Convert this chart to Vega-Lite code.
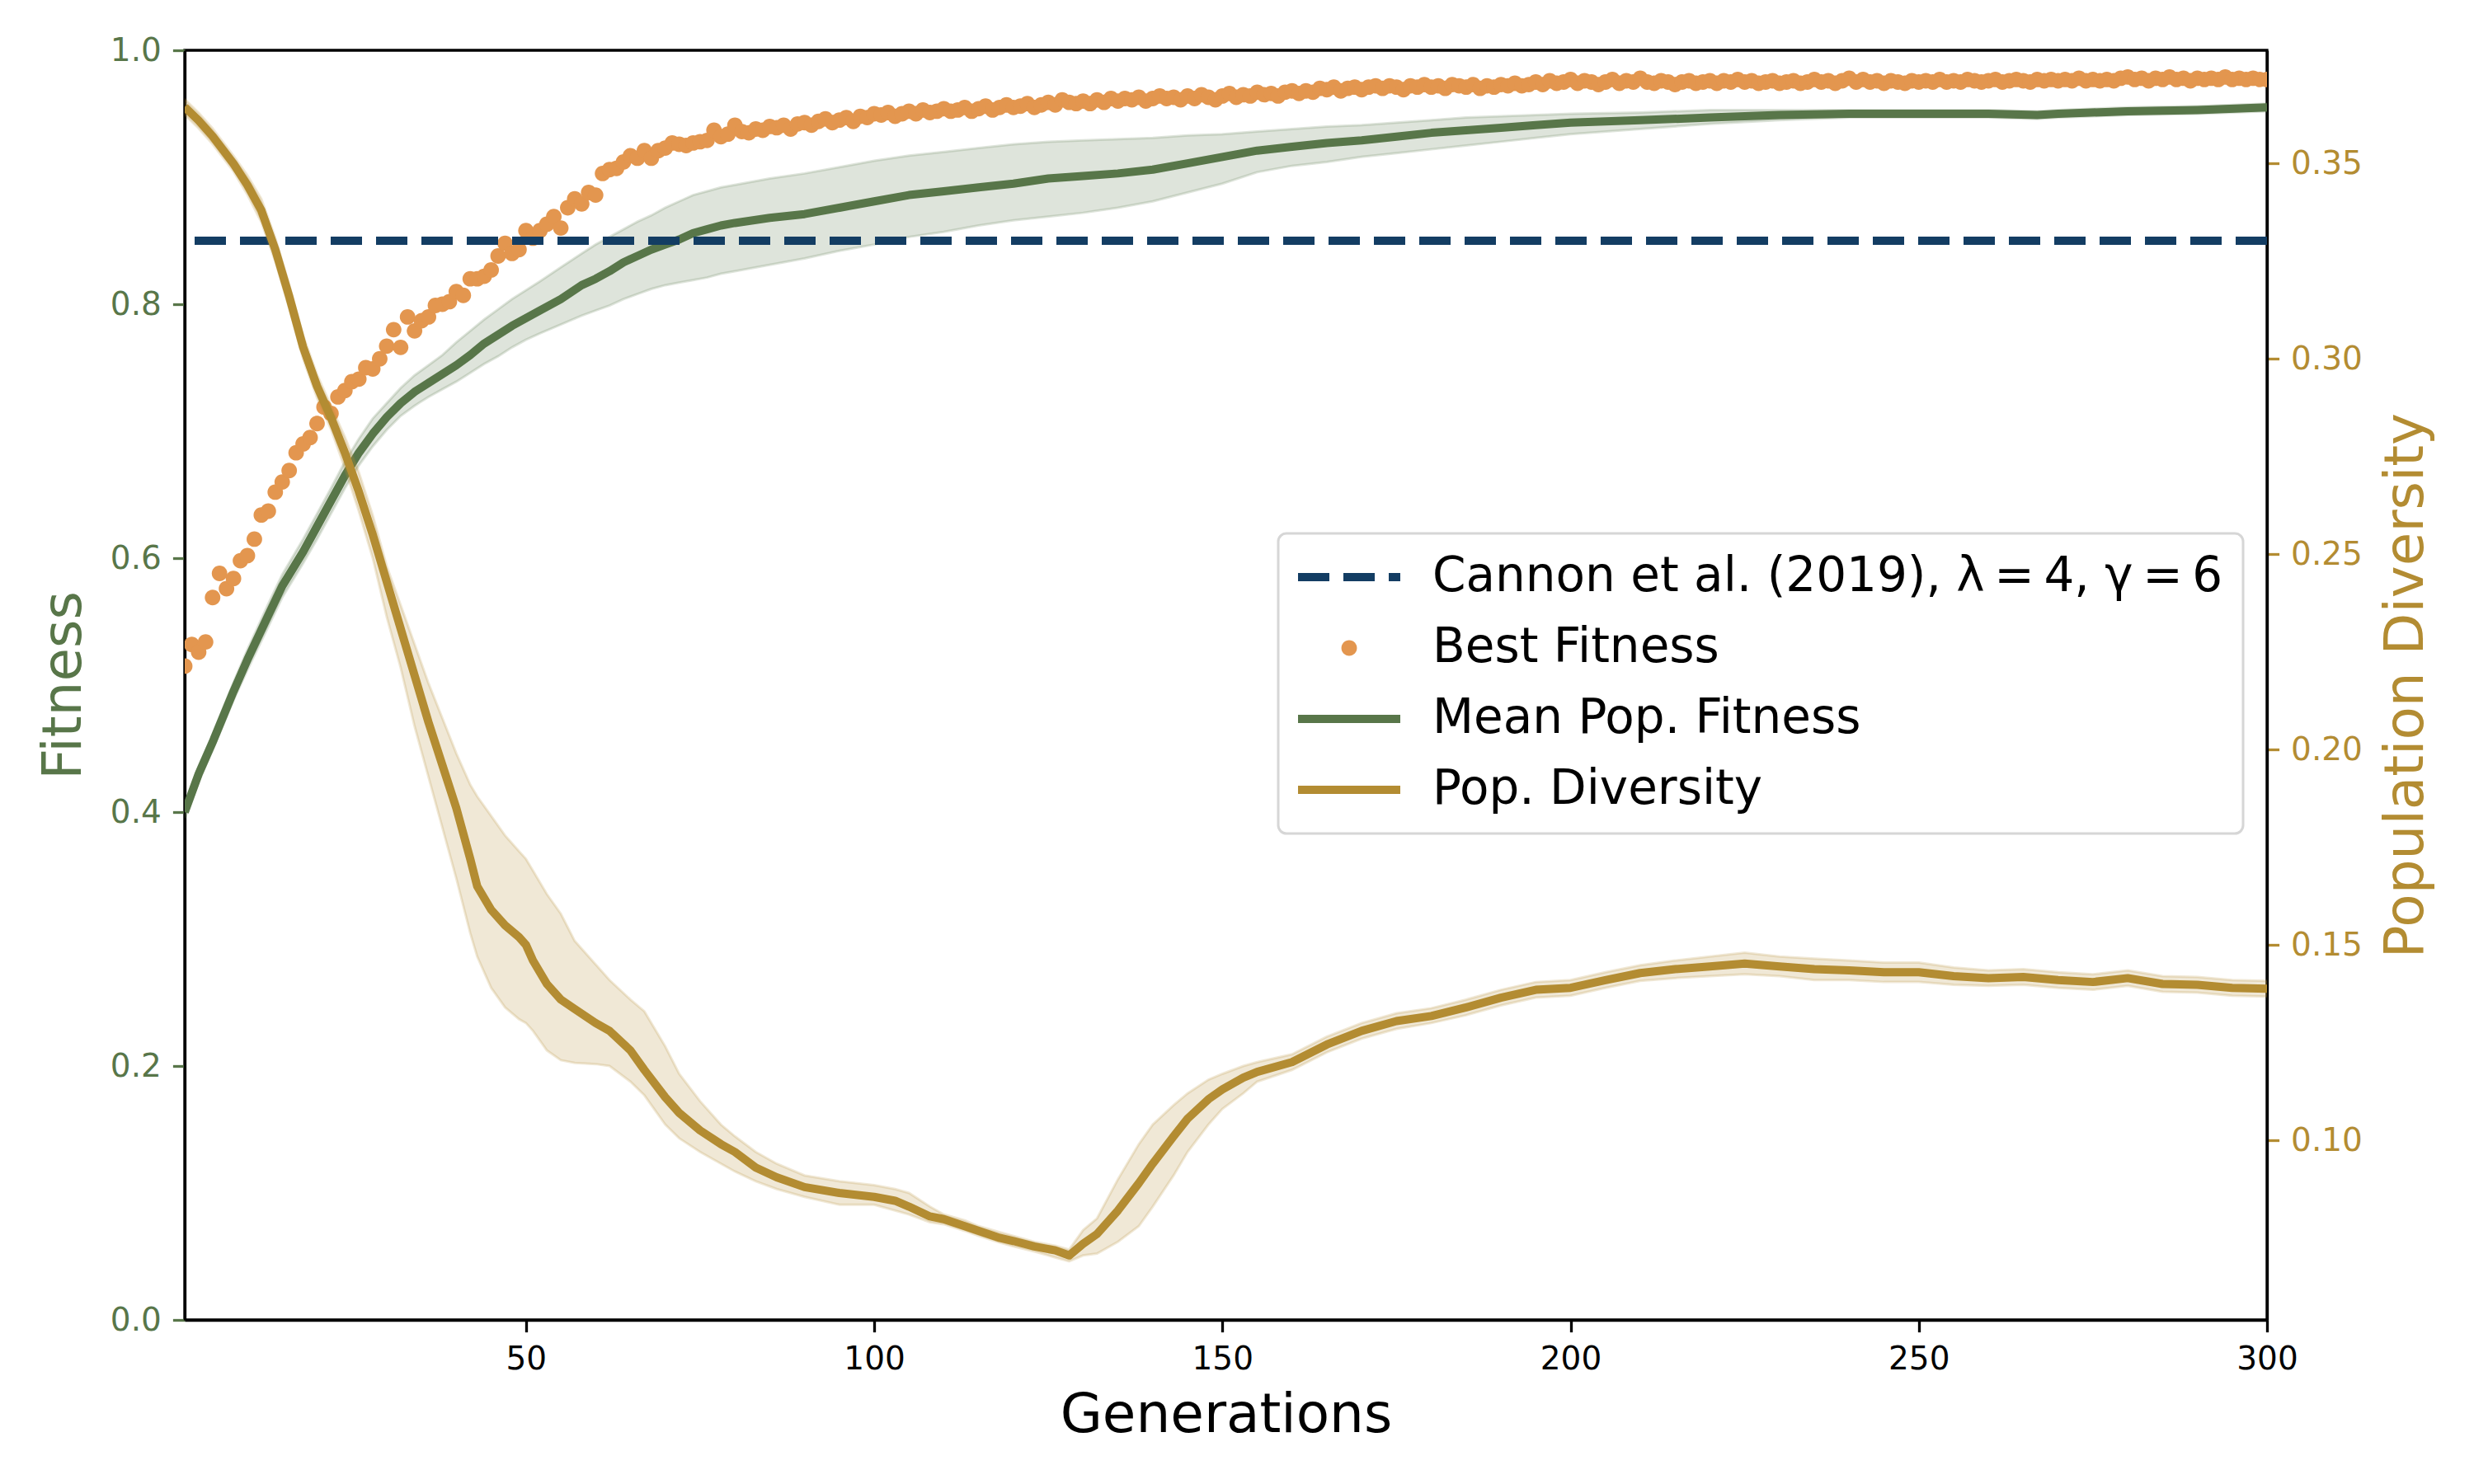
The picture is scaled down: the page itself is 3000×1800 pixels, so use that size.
{
  "$schema": "https://vega.github.io/schema/vega-lite/v6.json",
  "description": "Fitness and population diversity over generations.",
  "width": 2525,
  "height": 1540,
  "autosize": {"type": "none"},
  "padding": {"left": 224, "top": 61, "right": 251, "bottom": 199},
  "background": "white",
  "config": {
    "font": "DejaVu Sans",
    "view": {"stroke": "black", "strokeWidth": 3.3},
    "legend": {"strokeWidth": 3},
    "axis": {
      "grid": false,
      "tickSize": 14.6,
      "tickWidth": 3.3,
      "domainWidth": 3.3,
      "domainColor": "black",
      "labelFont": "DejaVu Sans",
      "labelFontSize": 39,
      "labelPadding": 14,
      "labelFlush": false,
      "labelOverlap": false,
      "titleFont": "DejaVu Sans",
      "titleFontSize": 66,
      "titleFontWeight": "normal"
    }
  },
  "datasets": {
    "mean": [
      {"g": 1, "m": 0.400, "lo": 0.395, "hi": 0.405},
      {"g": 3, "m": 0.430, "lo": 0.424, "hi": 0.436},
      {"g": 5, "m": 0.455, "lo": 0.449, "hi": 0.461},
      {"g": 8, "m": 0.495, "lo": 0.488, "hi": 0.502},
      {"g": 10, "m": 0.520, "lo": 0.512, "hi": 0.528},
      {"g": 13, "m": 0.555, "lo": 0.546, "hi": 0.564},
      {"g": 15, "m": 0.578, "lo": 0.569, "hi": 0.587},
      {"g": 18, "m": 0.605, "lo": 0.596, "hi": 0.615},
      {"g": 20, "m": 0.625, "lo": 0.615, "hi": 0.635},
      {"g": 22, "m": 0.645, "lo": 0.635, "hi": 0.655},
      {"g": 24, "m": 0.665, "lo": 0.655, "hi": 0.676},
      {"g": 26, "m": 0.683, "lo": 0.673, "hi": 0.694},
      {"g": 28, "m": 0.698, "lo": 0.688, "hi": 0.710},
      {"g": 30, "m": 0.711, "lo": 0.701, "hi": 0.722},
      {"g": 32, "m": 0.722, "lo": 0.712, "hi": 0.734},
      {"g": 34, "m": 0.731, "lo": 0.720, "hi": 0.744},
      {"g": 36, "m": 0.738, "lo": 0.727, "hi": 0.752},
      {"g": 38, "m": 0.745, "lo": 0.733, "hi": 0.760},
      {"g": 40, "m": 0.752, "lo": 0.739, "hi": 0.770},
      {"g": 42, "m": 0.760, "lo": 0.746, "hi": 0.779},
      {"g": 44, "m": 0.769, "lo": 0.753, "hi": 0.788},
      {"g": 46, "m": 0.776, "lo": 0.759, "hi": 0.796},
      {"g": 48, "m": 0.783, "lo": 0.766, "hi": 0.804},
      {"g": 50, "m": 0.789, "lo": 0.772, "hi": 0.811},
      {"g": 52, "m": 0.795, "lo": 0.777, "hi": 0.818},
      {"g": 55, "m": 0.804, "lo": 0.784, "hi": 0.829},
      {"g": 58, "m": 0.815, "lo": 0.791, "hi": 0.840},
      {"g": 60, "m": 0.820, "lo": 0.795, "hi": 0.847},
      {"g": 62, "m": 0.826, "lo": 0.799, "hi": 0.853},
      {"g": 64, "m": 0.833, "lo": 0.804, "hi": 0.859},
      {"g": 66, "m": 0.838, "lo": 0.808, "hi": 0.865},
      {"g": 68, "m": 0.843, "lo": 0.812, "hi": 0.870},
      {"g": 70, "m": 0.847, "lo": 0.815, "hi": 0.876},
      {"g": 72, "m": 0.851, "lo": 0.817, "hi": 0.881},
      {"g": 74, "m": 0.856, "lo": 0.819, "hi": 0.886},
      {"g": 76, "m": 0.859, "lo": 0.821, "hi": 0.889},
      {"g": 78, "m": 0.862, "lo": 0.824, "hi": 0.892},
      {"g": 80, "m": 0.864, "lo": 0.826, "hi": 0.894},
      {"g": 85, "m": 0.868, "lo": 0.831, "hi": 0.899},
      {"g": 90, "m": 0.871, "lo": 0.836, "hi": 0.903},
      {"g": 95, "m": 0.876, "lo": 0.842, "hi": 0.908},
      {"g": 100, "m": 0.881, "lo": 0.847, "hi": 0.913},
      {"g": 105, "m": 0.886, "lo": 0.853, "hi": 0.917},
      {"g": 110, "m": 0.889, "lo": 0.857, "hi": 0.920},
      {"g": 115, "m": 0.892, "lo": 0.862, "hi": 0.923},
      {"g": 120, "m": 0.895, "lo": 0.866, "hi": 0.926},
      {"g": 125, "m": 0.899, "lo": 0.869, "hi": 0.928},
      {"g": 130, "m": 0.901, "lo": 0.872, "hi": 0.929},
      {"g": 135, "m": 0.903, "lo": 0.876, "hi": 0.930},
      {"g": 140, "m": 0.906, "lo": 0.881, "hi": 0.931},
      {"g": 145, "m": 0.911, "lo": 0.888, "hi": 0.933},
      {"g": 150, "m": 0.916, "lo": 0.895, "hi": 0.934},
      {"g": 155, "m": 0.921, "lo": 0.904, "hi": 0.936},
      {"g": 160, "m": 0.924, "lo": 0.909, "hi": 0.938},
      {"g": 165, "m": 0.927, "lo": 0.912, "hi": 0.940},
      {"g": 170, "m": 0.929, "lo": 0.916, "hi": 0.941},
      {"g": 175, "m": 0.932, "lo": 0.919, "hi": 0.943},
      {"g": 180, "m": 0.935, "lo": 0.922, "hi": 0.945},
      {"g": 185, "m": 0.937, "lo": 0.925, "hi": 0.947},
      {"g": 190, "m": 0.939, "lo": 0.928, "hi": 0.948},
      {"g": 195, "m": 0.941, "lo": 0.931, "hi": 0.949},
      {"g": 200, "m": 0.943, "lo": 0.934, "hi": 0.950},
      {"g": 210, "m": 0.945, "lo": 0.938, "hi": 0.951},
      {"g": 220, "m": 0.947, "lo": 0.942, "hi": 0.953},
      {"g": 230, "m": 0.949, "lo": 0.945, "hi": 0.953},
      {"g": 240, "m": 0.950, "lo": 0.947, "hi": 0.953},
      {"g": 250, "m": 0.950, "lo": 0.947, "hi": 0.953},
      {"g": 260, "m": 0.950, "lo": 0.947, "hi": 0.953},
      {"g": 267, "m": 0.949, "lo": 0.946, "hi": 0.952},
      {"g": 270, "m": 0.950, "lo": 0.947, "hi": 0.953},
      {"g": 280, "m": 0.952, "lo": 0.949, "hi": 0.955},
      {"g": 290, "m": 0.953, "lo": 0.950, "hi": 0.956},
      {"g": 300, "m": 0.955, "lo": 0.952, "hi": 0.958}
    ],
    "div": [
      {"g": 1, "d": 0.3645, "lo": 0.3625, "hi": 0.3665},
      {"g": 3, "d": 0.361, "lo": 0.359, "hi": 0.363},
      {"g": 5, "d": 0.357, "lo": 0.355, "hi": 0.359},
      {"g": 8, "d": 0.350, "lo": 0.348, "hi": 0.352},
      {"g": 10, "d": 0.3445, "lo": 0.342, "hi": 0.347},
      {"g": 12, "d": 0.338, "lo": 0.335, "hi": 0.341},
      {"g": 14, "d": 0.328, "lo": 0.325, "hi": 0.331},
      {"g": 16, "d": 0.316, "lo": 0.313, "hi": 0.319},
      {"g": 18, "d": 0.303, "lo": 0.300, "hi": 0.306},
      {"g": 20, "d": 0.293, "lo": 0.290, "hi": 0.296},
      {"g": 22, "d": 0.285, "lo": 0.282, "hi": 0.288},
      {"g": 24, "d": 0.276, "lo": 0.272, "hi": 0.280},
      {"g": 26, "d": 0.266, "lo": 0.261, "hi": 0.271},
      {"g": 28, "d": 0.255, "lo": 0.249, "hi": 0.260},
      {"g": 30, "d": 0.243, "lo": 0.234, "hi": 0.247},
      {"g": 32, "d": 0.231, "lo": 0.221, "hi": 0.237},
      {"g": 34, "d": 0.219, "lo": 0.206, "hi": 0.227},
      {"g": 36, "d": 0.207, "lo": 0.193, "hi": 0.217},
      {"g": 38, "d": 0.196, "lo": 0.180, "hi": 0.208},
      {"g": 40, "d": 0.185, "lo": 0.167, "hi": 0.199},
      {"g": 42, "d": 0.172, "lo": 0.153, "hi": 0.191},
      {"g": 43, "d": 0.165, "lo": 0.147, "hi": 0.188},
      {"g": 45, "d": 0.159, "lo": 0.139, "hi": 0.183},
      {"g": 47, "d": 0.155, "lo": 0.134, "hi": 0.178},
      {"g": 49, "d": 0.152, "lo": 0.131, "hi": 0.174},
      {"g": 50, "d": 0.150, "lo": 0.130, "hi": 0.172},
      {"g": 51, "d": 0.146, "lo": 0.128, "hi": 0.169},
      {"g": 53, "d": 0.140, "lo": 0.123, "hi": 0.163},
      {"g": 55, "d": 0.136, "lo": 0.1205, "hi": 0.158},
      {"g": 57, "d": 0.1336, "lo": 0.1198, "hi": 0.151},
      {"g": 60, "d": 0.130, "lo": 0.1195, "hi": 0.145},
      {"g": 62, "d": 0.128, "lo": 0.119, "hi": 0.141},
      {"g": 65, "d": 0.123, "lo": 0.115, "hi": 0.136},
      {"g": 67, "d": 0.118, "lo": 0.1115, "hi": 0.133},
      {"g": 70, "d": 0.111, "lo": 0.104, "hi": 0.124},
      {"g": 72, "d": 0.107, "lo": 0.1005, "hi": 0.117},
      {"g": 75, "d": 0.1025, "lo": 0.097, "hi": 0.110},
      {"g": 78, "d": 0.099, "lo": 0.094, "hi": 0.104},
      {"g": 80, "d": 0.097, "lo": 0.092, "hi": 0.101},
      {"g": 83, "d": 0.093, "lo": 0.0895, "hi": 0.097},
      {"g": 86, "d": 0.0905, "lo": 0.0875, "hi": 0.094},
      {"g": 90, "d": 0.088, "lo": 0.0855, "hi": 0.091},
      {"g": 95, "d": 0.0865, "lo": 0.0835, "hi": 0.0895},
      {"g": 100, "d": 0.0855, "lo": 0.0835, "hi": 0.0885},
      {"g": 103, "d": 0.0845, "lo": 0.082, "hi": 0.0875},
      {"g": 105, "d": 0.083, "lo": 0.081, "hi": 0.0865},
      {"g": 108, "d": 0.0805, "lo": 0.079, "hi": 0.083},
      {"g": 110, "d": 0.0798, "lo": 0.0785, "hi": 0.081},
      {"g": 113, "d": 0.078, "lo": 0.0768, "hi": 0.0795},
      {"g": 115, "d": 0.0768, "lo": 0.0755, "hi": 0.078},
      {"g": 118, "d": 0.075, "lo": 0.0738, "hi": 0.0765},
      {"g": 120, "d": 0.0742, "lo": 0.0728, "hi": 0.0755},
      {"g": 123, "d": 0.0728, "lo": 0.0715, "hi": 0.074},
      {"g": 126, "d": 0.0718, "lo": 0.070, "hi": 0.073},
      {"g": 128, "d": 0.0705, "lo": 0.069, "hi": 0.072},
      {"g": 130, "d": 0.0735, "lo": 0.0705, "hi": 0.077},
      {"g": 132, "d": 0.076, "lo": 0.071, "hi": 0.080},
      {"g": 135, "d": 0.082, "lo": 0.074, "hi": 0.090},
      {"g": 138, "d": 0.089, "lo": 0.078, "hi": 0.099},
      {"g": 140, "d": 0.094, "lo": 0.083, "hi": 0.104},
      {"g": 143, "d": 0.101, "lo": 0.091, "hi": 0.109},
      {"g": 145, "d": 0.1055, "lo": 0.097, "hi": 0.112},
      {"g": 148, "d": 0.1105, "lo": 0.104, "hi": 0.1155},
      {"g": 150, "d": 0.113, "lo": 0.108, "hi": 0.117},
      {"g": 153, "d": 0.116, "lo": 0.112, "hi": 0.119},
      {"g": 155, "d": 0.1175, "lo": 0.115, "hi": 0.120},
      {"g": 160, "d": 0.120, "lo": 0.118, "hi": 0.122},
      {"g": 165, "d": 0.1245, "lo": 0.1225, "hi": 0.1265},
      {"g": 170, "d": 0.128, "lo": 0.126, "hi": 0.130},
      {"g": 175, "d": 0.1305, "lo": 0.1285, "hi": 0.1325},
      {"g": 180, "d": 0.1318, "lo": 0.130, "hi": 0.1338},
      {"g": 185, "d": 0.134, "lo": 0.132, "hi": 0.136},
      {"g": 190, "d": 0.1365, "lo": 0.1345, "hi": 0.1385},
      {"g": 195, "d": 0.1385, "lo": 0.1365, "hi": 0.1405},
      {"g": 200, "d": 0.139, "lo": 0.137, "hi": 0.141},
      {"g": 205, "d": 0.141, "lo": 0.139, "hi": 0.143},
      {"g": 210, "d": 0.1428, "lo": 0.1408, "hi": 0.1448},
      {"g": 215, "d": 0.1438, "lo": 0.1415, "hi": 0.146},
      {"g": 220, "d": 0.1445, "lo": 0.142, "hi": 0.147},
      {"g": 225, "d": 0.1452, "lo": 0.1425, "hi": 0.148},
      {"g": 230, "d": 0.1445, "lo": 0.142, "hi": 0.147},
      {"g": 235, "d": 0.1438, "lo": 0.141, "hi": 0.1465},
      {"g": 240, "d": 0.1435, "lo": 0.141, "hi": 0.146},
      {"g": 245, "d": 0.143, "lo": 0.1405, "hi": 0.1455},
      {"g": 250, "d": 0.143, "lo": 0.1405, "hi": 0.1455},
      {"g": 255, "d": 0.142, "lo": 0.1398, "hi": 0.1442},
      {"g": 260, "d": 0.1415, "lo": 0.1395, "hi": 0.1435},
      {"g": 265, "d": 0.1418, "lo": 0.1398, "hi": 0.1438},
      {"g": 270, "d": 0.141, "lo": 0.139, "hi": 0.143},
      {"g": 275, "d": 0.1405, "lo": 0.1385, "hi": 0.1425},
      {"g": 280, "d": 0.1415, "lo": 0.1395, "hi": 0.1435},
      {"g": 285, "d": 0.140, "lo": 0.138, "hi": 0.142},
      {"g": 290, "d": 0.1398, "lo": 0.1378, "hi": 0.1418},
      {"g": 295, "d": 0.139, "lo": 0.137, "hi": 0.141},
      {"g": 300, "d": 0.1388, "lo": 0.1368, "hi": 0.1408}
    ],
    "best": [
      {"g": 1, "b": 0.515}, {"g": 2, "b": 0.532}, {"g": 3, "b": 0.526}, {"g": 4, "b": 0.534}, {"g": 5, "b": 0.569},
      {"g": 6, "b": 0.588}, {"g": 7, "b": 0.576}, {"g": 8, "b": 0.584}, {"g": 9, "b": 0.598}, {"g": 10, "b": 0.602},
      {"g": 11, "b": 0.615}, {"g": 12, "b": 0.634}, {"g": 13, "b": 0.637}, {"g": 14, "b": 0.652}, {"g": 15, "b": 0.660},
      {"g": 16, "b": 0.669}, {"g": 17, "b": 0.683}, {"g": 18, "b": 0.690}, {"g": 19, "b": 0.695}, {"g": 20, "b": 0.706},
      {"g": 21, "b": 0.719}, {"g": 22, "b": 0.714}, {"g": 23, "b": 0.727}, {"g": 24, "b": 0.732}, {"g": 25, "b": 0.739},
      {"g": 26, "b": 0.741}, {"g": 27, "b": 0.750}, {"g": 28, "b": 0.749}, {"g": 29, "b": 0.757}, {"g": 30, "b": 0.767},
      {"g": 31, "b": 0.780}, {"g": 32, "b": 0.766}, {"g": 33, "b": 0.790}, {"g": 34, "b": 0.779}, {"g": 35, "b": 0.787},
      {"g": 36, "b": 0.790}, {"g": 37, "b": 0.799}, {"g": 38, "b": 0.800}, {"g": 39, "b": 0.802}, {"g": 40, "b": 0.810},
      {"g": 41, "b": 0.807}, {"g": 42, "b": 0.820}, {"g": 43, "b": 0.820}, {"g": 44, "b": 0.822}, {"g": 45, "b": 0.827},
      {"g": 46, "b": 0.838}, {"g": 47, "b": 0.848}, {"g": 48, "b": 0.840}, {"g": 49, "b": 0.843}, {"g": 50, "b": 0.858},
      {"g": 51, "b": 0.852}, {"g": 52, "b": 0.858}, {"g": 53, "b": 0.863}, {"g": 54, "b": 0.869}, {"g": 55, "b": 0.860},
      {"g": 56, "b": 0.876}, {"g": 57, "b": 0.883}, {"g": 58, "b": 0.879}, {"g": 59, "b": 0.888}, {"g": 60, "b": 0.886},
      {"g": 61, "b": 0.903}, {"g": 62, "b": 0.906}, {"g": 63, "b": 0.907}, {"g": 64, "b": 0.912}, {"g": 65, "b": 0.917},
      {"g": 66, "b": 0.915}, {"g": 67, "b": 0.921}, {"g": 68, "b": 0.915}, {"g": 69, "b": 0.921}, {"g": 70, "b": 0.923},
      {"g": 71, "b": 0.927}, {"g": 72, "b": 0.926}, {"g": 73, "b": 0.925}, {"g": 74, "b": 0.927}, {"g": 75, "b": 0.928},
      {"g": 76, "b": 0.929}, {"g": 77, "b": 0.937}, {"g": 78, "b": 0.932}, {"g": 79, "b": 0.934}, {"g": 80, "b": 0.941},
      {"g": 81, "b": 0.936}, {"g": 82, "b": 0.935}, {"g": 83, "b": 0.938}, {"g": 84, "b": 0.937}, {"g": 85, "b": 0.940},
      {"g": 86, "b": 0.939}, {"g": 87, "b": 0.941}, {"g": 88, "b": 0.938}, {"g": 89, "b": 0.942}, {"g": 90, "b": 0.943},
      {"g": 91, "b": 0.941}, {"g": 92, "b": 0.944}, {"g": 93, "b": 0.946}, {"g": 94, "b": 0.943}, {"g": 95, "b": 0.945},
      {"g": 96, "b": 0.947}, {"g": 97, "b": 0.944}, {"g": 98, "b": 0.948}, {"g": 99, "b": 0.947}, {"g": 100, "b": 0.950},
      {"g": 101, "b": 0.949}, {"g": 102, "b": 0.951}, {"g": 103, "b": 0.948}, {"g": 104, "b": 0.950}, {"g": 105, "b": 0.952},
      {"g": 106, "b": 0.950}, {"g": 107, "b": 0.953}, {"g": 108, "b": 0.951}, {"g": 109, "b": 0.952}, {"g": 110, "b": 0.954},
      {"g": 111, "b": 0.952}, {"g": 112, "b": 0.953}, {"g": 113, "b": 0.955}, {"g": 114, "b": 0.952}, {"g": 115, "b": 0.954},
      {"g": 116, "b": 0.956}, {"g": 117, "b": 0.953}, {"g": 118, "b": 0.955}, {"g": 119, "b": 0.957}, {"g": 120, "b": 0.955},
      {"g": 121, "b": 0.956}, {"g": 122, "b": 0.958}, {"g": 123, "b": 0.955}, {"g": 124, "b": 0.957}, {"g": 125, "b": 0.959},
      {"g": 126, "b": 0.957}, {"g": 127, "b": 0.961}, {"g": 128, "b": 0.959}, {"g": 129, "b": 0.958}, {"g": 130, "b": 0.960},
      {"g": 131, "b": 0.958}, {"g": 132, "b": 0.961}, {"g": 133, "b": 0.959}, {"g": 134, "b": 0.962}, {"g": 135, "b": 0.960},
      {"g": 136, "b": 0.962}, {"g": 137, "b": 0.961}, {"g": 138, "b": 0.963}, {"g": 139, "b": 0.960}, {"g": 140, "b": 0.962},
      {"g": 141, "b": 0.964}, {"g": 142, "b": 0.962}, {"g": 143, "b": 0.963}, {"g": 144, "b": 0.961}, {"g": 145, "b": 0.964},
      {"g": 146, "b": 0.962}, {"g": 147, "b": 0.965}, {"g": 148, "b": 0.963}, {"g": 149, "b": 0.961}, {"g": 150, "b": 0.964},
      {"g": 151, "b": 0.966}, {"g": 152, "b": 0.963}, {"g": 153, "b": 0.965}, {"g": 154, "b": 0.964}, {"g": 155, "b": 0.967},
      {"g": 156, "b": 0.965}, {"g": 157, "b": 0.966}, {"g": 158, "b": 0.964}, {"g": 159, "b": 0.967}, {"g": 160, "b": 0.968},
      {"g": 161, "b": 0.966}, {"g": 162, "b": 0.968}, {"g": 163, "b": 0.967}, {"g": 164, "b": 0.970}, {"g": 165, "b": 0.969},
      {"g": 166, "b": 0.971}, {"g": 167, "b": 0.968}, {"g": 168, "b": 0.970}, {"g": 169, "b": 0.971}, {"g": 170, "b": 0.969},
      {"g": 171, "b": 0.971}, {"g": 172, "b": 0.972}, {"g": 173, "b": 0.970}, {"g": 174, "b": 0.972}, {"g": 175, "b": 0.971},
      {"g": 176, "b": 0.969}, {"g": 177, "b": 0.972}, {"g": 178, "b": 0.971}, {"g": 179, "b": 0.973}, {"g": 180, "b": 0.971},
      {"g": 181, "b": 0.972}, {"g": 182, "b": 0.970}, {"g": 183, "b": 0.973}, {"g": 184, "b": 0.972}, {"g": 185, "b": 0.971},
      {"g": 186, "b": 0.973}, {"g": 187, "b": 0.970}, {"g": 188, "b": 0.972}, {"g": 189, "b": 0.971}, {"g": 190, "b": 0.973},
      {"g": 191, "b": 0.972}, {"g": 192, "b": 0.974}, {"g": 193, "b": 0.972}, {"g": 194, "b": 0.973}, {"g": 195, "b": 0.975},
      {"g": 196, "b": 0.973}, {"g": 197, "b": 0.976}, {"g": 198, "b": 0.974}, {"g": 199, "b": 0.975}, {"g": 200, "b": 0.977},
      {"g": 201, "b": 0.974}, {"g": 202, "b": 0.976}, {"g": 203, "b": 0.975}, {"g": 204, "b": 0.973}, {"g": 205, "b": 0.975},
      {"g": 206, "b": 0.977}, {"g": 207, "b": 0.974}, {"g": 208, "b": 0.976}, {"g": 209, "b": 0.975}, {"g": 210, "b": 0.978},
      {"g": 211, "b": 0.975}, {"g": 212, "b": 0.974}, {"g": 213, "b": 0.976}, {"g": 214, "b": 0.975}, {"g": 215, "b": 0.973},
      {"g": 216, "b": 0.975}, {"g": 217, "b": 0.976}, {"g": 218, "b": 0.974}, {"g": 219, "b": 0.975}, {"g": 220, "b": 0.976},
      {"g": 221, "b": 0.974}, {"g": 222, "b": 0.976}, {"g": 223, "b": 0.975}, {"g": 224, "b": 0.977}, {"g": 225, "b": 0.975},
      {"g": 226, "b": 0.976}, {"g": 227, "b": 0.974}, {"g": 228, "b": 0.975}, {"g": 229, "b": 0.976}, {"g": 230, "b": 0.974},
      {"g": 231, "b": 0.975}, {"g": 232, "b": 0.976}, {"g": 233, "b": 0.974}, {"g": 234, "b": 0.975}, {"g": 235, "b": 0.977},
      {"g": 236, "b": 0.975}, {"g": 237, "b": 0.976}, {"g": 238, "b": 0.974}, {"g": 239, "b": 0.976}, {"g": 240, "b": 0.978},
      {"g": 241, "b": 0.975}, {"g": 242, "b": 0.977}, {"g": 243, "b": 0.975}, {"g": 244, "b": 0.976}, {"g": 245, "b": 0.974},
      {"g": 246, "b": 0.976}, {"g": 247, "b": 0.975}, {"g": 248, "b": 0.974}, {"g": 249, "b": 0.976}, {"g": 250, "b": 0.975},
      {"g": 251, "b": 0.976}, {"g": 252, "b": 0.975}, {"g": 253, "b": 0.977}, {"g": 254, "b": 0.975}, {"g": 255, "b": 0.976},
      {"g": 256, "b": 0.975}, {"g": 257, "b": 0.977}, {"g": 258, "b": 0.976}, {"g": 259, "b": 0.975}, {"g": 260, "b": 0.976},
      {"g": 261, "b": 0.977}, {"g": 262, "b": 0.975}, {"g": 263, "b": 0.976}, {"g": 264, "b": 0.977}, {"g": 265, "b": 0.976},
      {"g": 266, "b": 0.975}, {"g": 267, "b": 0.977}, {"g": 268, "b": 0.976}, {"g": 269, "b": 0.977}, {"g": 270, "b": 0.976},
      {"g": 271, "b": 0.977}, {"g": 272, "b": 0.976}, {"g": 273, "b": 0.978}, {"g": 274, "b": 0.976}, {"g": 275, "b": 0.977},
      {"g": 276, "b": 0.976}, {"g": 277, "b": 0.977}, {"g": 278, "b": 0.976}, {"g": 279, "b": 0.978}, {"g": 280, "b": 0.979},
      {"g": 281, "b": 0.977}, {"g": 282, "b": 0.978}, {"g": 283, "b": 0.976}, {"g": 284, "b": 0.978}, {"g": 285, "b": 0.977},
      {"g": 286, "b": 0.979}, {"g": 287, "b": 0.977}, {"g": 288, "b": 0.978}, {"g": 289, "b": 0.976}, {"g": 290, "b": 0.978},
      {"g": 291, "b": 0.977}, {"g": 292, "b": 0.978}, {"g": 293, "b": 0.977}, {"g": 294, "b": 0.979}, {"g": 295, "b": 0.977},
      {"g": 296, "b": 0.978}, {"g": 297, "b": 0.977}, {"g": 298, "b": 0.978}, {"g": 299, "b": 0.977}, {"g": 300, "b": 0.977}
    ]
  },
  "layer": [
    {
      "layer": [
        {
          "data": {"name": "mean"},
          "mark": {"type": "area", "clip": true, "color": "#587649", "fillOpacity": 0.2, "stroke": "#587649", "strokeOpacity": 0.2, "strokeWidth": 3},
          "encoding": {
            "x": {
              "field": "g", "type": "quantitative",
              "scale": {"domain": [1, 300], "nice": false, "zero": false},
              "axis": {"values": [50, 100, 150, 200, 250, 300], "format": "d", "title": "Generations", "titlePadding": 16, "labelColor": "black", "tickColor": "black", "titleColor": "black"}
            },
            "y": {
              "field": "lo", "type": "quantitative",
              "scale": {"domain": [0, 1], "nice": false, "zero": false},
              "axis": {"orient": "left", "values": [0, 0.2, 0.4, 0.6, 0.8, 1.0], "format": ".1f", "title": "Fitness", "titlePadding": 22, "labelColor": "#587649", "tickColor": "#587649", "titleColor": "#587649"}
            },
            "y2": {"field": "hi"}
          }
        },
        {
          "data": {"name": "mean"},
          "mark": {"type": "line", "clip": true, "color": "#587649", "strokeWidth": 10, "strokeJoin": "round"},
          "encoding": {
            "x": {"field": "g", "type": "quantitative"},
            "y": {"field": "m", "type": "quantitative"}
          }
        },
        {
          "data": {"name": "best"},
          "mark": {"type": "point", "clip": true, "filled": true, "size": 15376, "strokeWidth": 0, "opacity": 1},
          "encoding": {
            "x": {"field": "g", "type": "quantitative"},
            "y": {"field": "b", "type": "quantitative"},
            "color": {
              "datum": "Best Fitness", "type": "nominal",
              "scale": {
                "domain": ["Cannon et al. (2019), λ = 4, γ = 6", "Best Fitness", "Mean Pop. Fitness", "Pop. Diversity"],
                "range": ["#133d63", "#e3964f", "#587649", "#b38c32"]
              },
              "legend": {
                "title": null,
                "orient": "none",
                "legendX": 1326,
                "legendY": 586,
                "direction": "vertical",
                "labelFont": "DejaVu Sans",
                "labelFontSize": 58,
                "labelColor": "black",
                "labelLimit": 0,
                "labelOffset": 39,
                "labelExpr": "datum.label == 'Best Fitness' || datum.label == 'Mean Pop. Fitness' || datum.label == 'Pop. Diversity' ? datum.label : 'Cannon et al. (2019), λ\u2009=\u20094, γ\u2009=\u20096'",
                "clipHeight": 58,
                "rowPadding": 28,
                "padding": 24,
                "strokeColor": "#d6d6d6",
                "fillColor": "white",
                "cornerRadius": 10,
                "symbolStrokeWidth": 0,
                "symbolSize": 15376,
                "symbolOpacity": 1
              }
            },
            "shape": {
              "datum": "Best Fitness", "type": "nominal",
              "scale": {
                "domain": ["Cannon et al. (2019), λ = 4, γ = 6", "Best Fitness", "Mean Pop. Fitness", "Pop. Diversity"],
                "range": [
                  "M-1,-0.081H-0.387V0.081H-1ZM-0.113,-0.081H0.5V0.081H-0.113ZM0.774,-0.081H1V0.081H0.774Z",
                  "M-0.152,0A0.152,0.152,0,1,0,0.152,0A0.152,0.152,0,1,0,-0.152,0Z",
                  "M-1,-0.081H1V0.081H-1Z",
                  "M-1,-0.081H1V0.081H-1Z"
                ]
              }
            }
          }
        },
        {
          "data": {"values": [{}]},
          "mark": {"type": "rule", "color": "#133d63", "strokeWidth": 10, "strokeDash": [38, 17]},
          "encoding": {
            "y": {"datum": 0.85, "type": "quantitative"}
          }
        }
      ]
    },
    {
      "layer": [
        {
          "data": {"name": "div"},
          "mark": {"type": "area", "clip": true, "color": "#b38c32", "fillOpacity": 0.2, "stroke": "#b38c32", "strokeOpacity": 0.2, "strokeWidth": 3},
          "encoding": {
            "x": {"field": "g", "type": "quantitative"},
            "y": {
              "field": "lo", "type": "quantitative",
              "scale": {"domain": [0.054, 0.379], "nice": false, "zero": false},
              "axis": {"orient": "right", "values": [0.10, 0.15, 0.20, 0.25, 0.30, 0.35], "format": ".2f", "title": "Population Diversity", "titleAngle": 270, "titleBaseline": "top", "titlePadding": 21, "labelColor": "#b38c32", "tickColor": "#b38c32", "titleColor": "#b38c32"}
            },
            "y2": {"field": "hi"}
          }
        },
        {
          "data": {"name": "div"},
          "mark": {"type": "line", "clip": true, "color": "#b38c32", "strokeWidth": 10, "strokeJoin": "round"},
          "encoding": {
            "x": {"field": "g", "type": "quantitative"},
            "y": {"field": "d", "type": "quantitative"}
          }
        }
      ]
    }
  ],
  "resolve": {"scale": {"y": "independent"}}
}
